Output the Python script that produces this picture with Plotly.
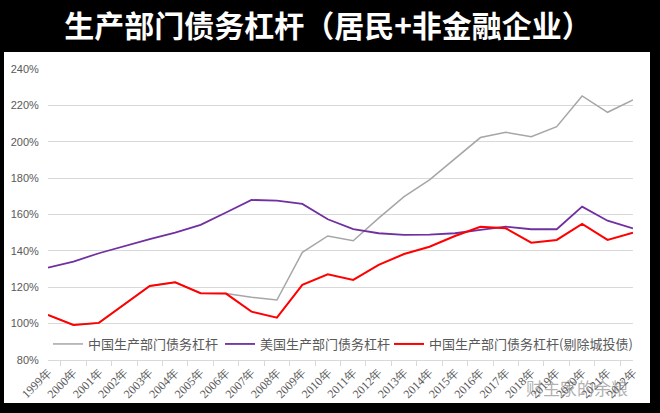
import plotly.graph_objects as go

years = ["1999年", "2000年", "2001年", "2002年", "2003年", "2004年", "2005年", "2006年",
         "2007年", "2008年", "2009年", "2010年", "2011年", "2012年", "2013年", "2014年",
         "2015年", "2016年", "2017年", "2018年", "2019年", "2020年", "2021年", "2022年"]

china = [104.8, 99.3, 100.4, 110.8, 120.7, 122.7, 116.7, 116.5, 114.5, 113.0, 139.2, 148.2,
         145.6, 158.0, 169.8, 179.0, 190.6, 202.3, 205.2, 202.8, 208.3, 225.2, 216.2, 223.0]
us = [130.8, 134.1, 138.7, 142.7, 146.4, 150.0, 154.3, 161.1, 168.0, 167.6, 165.8, 157.4,
      152.0, 149.7, 148.8, 148.9, 149.7, 151.5, 153.3, 151.9, 151.9, 164.3, 156.6, 152.4]
china_ex = [104.8, 99.3, 100.4, 110.8, 120.7, 122.7, 116.7, 116.5, 106.6, 103.3, 121.3, 127.1,
            124.0, 132.3, 138.3, 142.3, 148.2, 153.3, 152.4, 144.5, 146.0, 154.8, 146.0, 150.0]

names = ["中国生产部门债务杠杆", "美国生产部门债务杠杆", "中国生产部门债务杠杆(剔除城投债)"]
title_text = "生产部门债务杠杆（居民+非金融企业）"
y_ticks = [80, 100, 120, 140, 160, 180, 200, 220, 240]
y_tick_labels = ["80%", "100%", "120%", "140%", "160%", "180%", "200%", "220%", "240%"]

W, H = 660, 413
L, R, T, B = 48, 27, 69, 53
pw, ph = W - L - R, H - T - B

def px_x(px):
    return (px - L) / pw

def px_y(py):
    return (H - B - py) / ph

fig = go.Figure()
fig.add_trace(go.Scatter(x=years, y=china, mode="lines", name=names[0], legend="legend",
                         showlegend=True, line=dict(color="#A6A6A6", width=1.5)))
fig.add_trace(go.Scatter(x=years, y=us, mode="lines", name=names[1], legend="legend2",
                         showlegend=True, line=dict(color="#7030A0", width=1.8)))
fig.add_trace(go.Scatter(x=years, y=china_ex, mode="lines", name=names[2], legend="legend3",
                         showlegend=True, line=dict(color="#FF0000", width=2)))

leg_font = dict(family="Noto Sans CJK SC", size=13, color="#595959")

def leg(px):
    return dict(orientation="h", x=px_x(px), xanchor="left", y=px_y(344), yanchor="middle",
                bgcolor="rgba(0,0,0,0)", font=leg_font, visible=True)

fig.update_layout(
    width=W, height=H, autosize=False, showlegend=True,
    margin=dict(l=L, r=R, t=T, b=B),
    paper_bgcolor="black", plot_bgcolor="white",
    title=dict(text="<b>" + title_text + "</b>", x=0.497, xanchor="center",
               y=1 - 26 / H, yanchor="middle",
               font=dict(family="Noto Sans CJK SC", size=30, color="white")),
    shapes=[dict(type="rect", xref="paper", yref="paper",
                 x0=px_x(4), x1=px_x(650), y0=px_y(403), y1=px_y(52),
                 fillcolor="white", line=dict(width=0), layer="below")],
    xaxis=dict(type="category", showgrid=False, showline=True, linecolor="#D9D9D9",
               ticks="outside", tickson="boundaries", ticklen=5, tickcolor="#D9D9D9",
               tickangle=-45, tickfont=dict(family="Liberation Serif", size=12, color="#595959")),
    yaxis=dict(range=[80, 240], tickvals=y_ticks, ticktext=y_tick_labels, showgrid=True,
               gridcolor="#D9D9D9", gridwidth=1, zeroline=False, showline=False,
               ticks="outside", ticklen=6, tickcolor="rgba(0,0,0,0)",
               tickfont=dict(family="Liberation Sans", size=11, color="#595959")),
    legend=leg(48),
    legend2=leg(220),
    legend3=leg(389),
    annotations=[dict(text="财主家的余粮", xref="paper", yref="paper",
                      x=px_x(630), y=px_y(387), xanchor="right", yanchor="middle", showarrow=False,
                      font=dict(family="Noto Sans CJK SC", size=17, color="rgba(110,110,110,0.55)"))],
)

fig.write_html("out.html")
